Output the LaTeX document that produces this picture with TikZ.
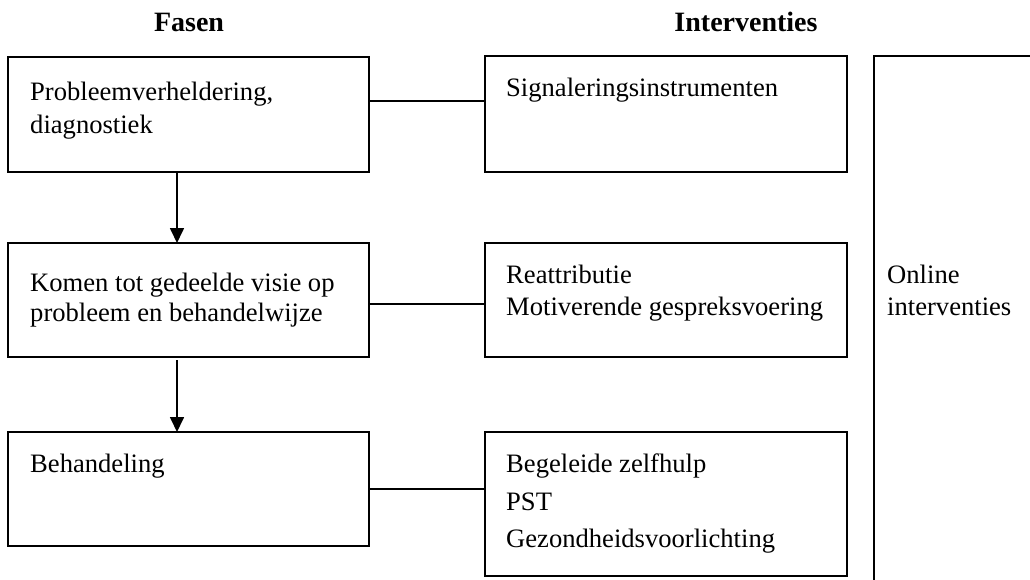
\documentclass[tikz,border=0pt]{standalone}
\usepackage{fontspec}
\setmainfont{Liberation Serif}
\usetikzlibrary{arrows.meta}
\begin{document}
\begin{tikzpicture}[x=1pt,y=-1pt,
  box/.style={draw, line width=1.7pt, inner sep=0pt, outer sep=0pt, anchor=north west},
  txt/.style={inner sep=0pt, anchor=base west, font=\fontsize{26.6}{31}\selectfont},
  hd/.style={inner sep=0pt, anchor=base, font=\bfseries\fontsize{28}{32}\selectfont},
  conn/.style={line width=1.7pt},
  arr/.style={line width=1.7pt, -{Triangle[width=14pt,length=15pt]}}]
\useasboundingbox (0,0) rectangle (1030,580);
\fill[white] (0,0) rectangle (1030,580);

% headers
\node[hd] (hfasen) at (189,32) {Fasen};
\node[hd] (hint) at (746,32) {Interventies};

% phase boxes
\node[box, minimum width=361pt, minimum height=115pt] (L1) at (8,57) {};
\node[box, minimum width=361pt, minimum height=114pt] (L2) at (8,243) {};
\node[box, minimum width=361pt, minimum height=114pt] (L3) at (8,432) {};

% intervention boxes
\node[box, minimum width=362pt, minimum height=116pt] (R1) at (485,56) {};
\node[box, minimum width=362pt, minimum height=114pt] (R2) at (485,243) {};
\node[box, minimum width=362pt, minimum height=144pt] (R3) at (485,432) {};

% online bracket
\coordinate (Otl) at (874,56);
\coordinate (Otr) at (1030,56);
\coordinate (Obl) at (874,580);
\draw[conn] (Otr) -- (Otl) -- (Obl);

% texts
\node[txt] (t11) at (30,101) {Probleemverheldering,};
\node[txt] (t12) at (30,134) {diagnostiek};
\node[txt] (t21) at (30,291) {Komen tot gedeelde visie op};
\node[txt] (t22) at (30,321) {probleem en behandelwijze};
\node[txt] (t31) at (30,472) {Behandeling};

\node[txt] (r11) at (506,97) {Signaleringsinstrumenten};
\node[txt] (r21) at (506,283) {Reattributie};
\node[txt] (r22) at (506,315) {Motiverende gespreksvoering};
\node[txt] (r31) at (506,472) {Begeleide zelfhulp};
\node[txt] (r32) at (506,510) {PST};
\node[txt] (r33) at (506,547) {Gezondheidsvoorlichting};

\node[txt] (o1) at (887,283) {Online};
\node[txt] (o2) at (887,315) {interventies};

% connectors
\coordinate (c1) at (0,101);
\coordinate (c2) at (0,304);
\draw[conn] (L1.east |- c1) -- (R1.west |- c1);
\draw[conn] (L2.east |- c2) -- (R2.west |- c2);
\draw[conn] (L3.east) -- (R3.west |- L3.east);

% arrows
\coordinate (ax) at (177,0);
\draw[arr] (ax |- L1.south) -- (ax |- L2.north);
\draw[arr] ([yshift=-3pt]ax |- L2.south) -- (ax |- L3.north);
\end{tikzpicture}
\end{document}
